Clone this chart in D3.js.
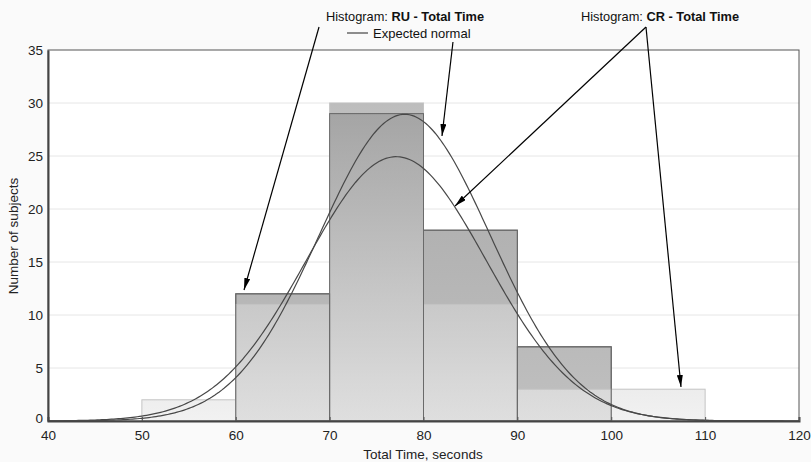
<!DOCTYPE html>
<html><head><meta charset="utf-8">
<script src="https://cdn.jsdelivr.net/npm/d3@7"></script>
<style>html,body{margin:0;padding:0;background:#fafafa;}svg{display:block;font-family:"Liberation Sans",Arial,sans-serif;}</style>
</head><body>
<svg id="c" width="811" height="462"></svg>
<script>
// ---- data ----
const binStarts = [50, 60, 70, 80, 90, 100];
const binWidth = 10;
const ruCounts = [0, 12, 29, 18, 7, 0];
const crCounts = [2, 11, 30, 11, 3, 3];
const ruNormal = [78.0, 9.1, 66];   // mean, sd, n
const crNormal = [77.1, 9.6, 60];
const xTicks = [40, 50, 60, 70, 80, 90, 100, 110, 120];
const yTicks = [0, 5, 10, 15, 20, 25, 30, 35];
const gridValues = [5, 10, 15, 20, 25, 30];
// annotation arrows: [fromX, fromY, toX, toY] in data units
const arrowsData = [
  [68.87, 37.17, 60.88, 12.36],
  [83.14, 35.75, 81.97, 26.89],
  [103.70, 37.17, 83.36, 20.28],
  [103.70, 37.17, 107.43, 3.21]
];

const svg = d3.select("#c");
const x = d3.scaleLinear().domain([40, 120]).range([48, 799]);
const y = d3.scaleLinear().domain([0, 35]).range([421, 50]);

const defs = svg.append("defs");
function grad(id, c1, c2) {
  const g = defs.append("linearGradient").attr("id", id)
    .attr("gradientUnits", "userSpaceOnUse")
    .attr("x1", 0).attr("x2", 0).attr("y1", y(35)).attr("y2", y(0));
  g.append("stop").attr("offset", 0).attr("stop-color", c1);
  g.append("stop").attr("offset", 1).attr("stop-color", c2);
}
grad("gRU", "#a4a4a4", "#c0c0c0");
grad("gCR", "#949494", "#ececec");
defs.append("marker").attr("id", "ah").attr("viewBox", "0 0 12 6")
  .attr("refX", 12).attr("refY", 3).attr("markerWidth", 12).attr("markerHeight", 6)
  .attr("markerUnits", "userSpaceOnUse").attr("orient", "auto")
  .append("path").attr("d", "M0,0 L12,3 L0,6 Z").attr("fill", "#000");

// plot background
svg.append("rect").attr("x", x(40)).attr("y", y(35)).attr("width", x(120) - x(40)).attr("height", y(0) - y(35)).attr("fill", "#fff");

// grid
svg.append("g").selectAll("line").data(gridValues).join("line")
  .attr("x1", x(40)).attr("x2", x(120)).attr("y1", d => y(d)).attr("y2", d => y(d))
  .attr("stroke", "#e6e6e6").attr("stroke-width", 1);

const ru = binStarts.map((b, i) => ({ b, v: ruCounts[i] })).filter(d => d.v > 0);
const cr = binStarts.map((b, i) => ({ b, v: crCounts[i] })).filter(d => d.v > 0);

// RU fills
svg.append("g").selectAll("rect").data(ru).join("rect")
  .attr("x", d => x(d.b)).attr("width", d => x(d.b + binWidth) - x(d.b))
  .attr("y", d => y(d.v)).attr("height", d => y(0) - y(d.v))
  .attr("fill", "url(#gRU)").attr("stroke", "#5c5c5c").attr("stroke-width", 1);
// CR fills (semi transparent on top)
svg.append("g").selectAll("rect").data(cr).join("rect")
  .attr("x", d => x(d.b)).attr("width", d => x(d.b + binWidth) - x(d.b))
  .attr("y", d => y(d.v)).attr("height", d => y(0) - y(d.v))
  .attr("fill", "url(#gCR)").attr("fill-opacity", 0.7)
  .attr("stroke", "#c4c4c4").attr("stroke-width", 1);
// RU outlines on top
svg.append("g").selectAll("rect").data(ru).join("rect")
  .attr("x", d => x(d.b)).attr("width", d => x(d.b + binWidth) - x(d.b))
  .attr("y", d => y(d.v)).attr("height", d => y(0) - y(d.v))
  .attr("fill", "none").attr("stroke", "#6a6a6a").attr("stroke-width", 1);

// normal curves
function normalPts(p) {
  const [m, s, n] = p;
  return d3.range(40, 120.01, 0.25).map(t => [t, n * binWidth / (s * Math.sqrt(2 * Math.PI)) * Math.exp(-0.5 * ((t - m) / s) ** 2)]);
}
const line = d3.line().x(d => x(d[0])).y(d => y(d[1])).curve(d3.curveLinear);
[ruNormal, crNormal].forEach(p => {
  svg.append("path").attr("d", line(normalPts(p))).attr("fill", "none")
    .attr("stroke", "#484848").attr("stroke-width", 1.2);
});

// frame & axes
svg.append("rect").attr("x", x(40)).attr("y", y(35)).attr("width", x(120) - x(40)).attr("height", y(0) - y(35))
  .attr("fill", "none").attr("stroke", "#555").attr("stroke-width", 1);
const xAxis = d3.axisBottom(x).tickValues(xTicks).tickSize(-4).tickPadding(9).tickFormat(d3.format("d"));
const gx = svg.append("g").attr("transform", `translate(0,${y(0)})`).call(xAxis);
gx.select(".domain").attr("stroke", "#444").attr("stroke-width", 2);
gx.selectAll(".tick line").attr("stroke", "#555");
gx.selectAll("text").attr("font-size", 13.5).attr("fill", "#222").attr("font-family", "Liberation Sans, Arial, sans-serif");
const yAxis = d3.axisLeft(y).tickValues(yTicks).tickSize(0).tickPadding(5).tickFormat(d3.format("d"));
const gy = svg.append("g").attr("transform", `translate(${x(40)},0)`).call(yAxis);
gy.select(".domain").attr("stroke", "#444").attr("stroke-width", 2);
gy.selectAll("text").attr("font-size", 13.5).attr("fill", "#222").attr("font-family", "Liberation Sans, Arial, sans-serif");
gy.selectAll(".tick").filter(d => d === 0).select("text").attr("dy", "0.1em");

// axis titles
svg.append("text").attr("x", 423).attr("y", 459).attr("text-anchor", "middle")
  .attr("font-size", 13.5).attr("fill", "#222").text("Total Time, seconds");
svg.append("text").attr("transform", "translate(18,236) rotate(-90)").attr("text-anchor", "middle")
  .attr("font-size", 13.5).attr("fill", "#222").text("Number of subjects");

// arrows
svg.append("g").selectAll("line").data(arrowsData).join("line")
  .attr("x1", d => x(d[0])).attr("y1", d => y(d[1])).attr("x2", d => x(d[2])).attr("y2", d => y(d[3]))
  .attr("stroke", "#000").attr("stroke-width", 1.2).attr("marker-end", "url(#ah)");

// labels
function label(xp, yp, bold) {
  const t = svg.append("text").attr("x", xp).attr("y", yp).attr("font-size", 12.8).attr("fill", "#111");
  t.append("tspan").text("Histogram: ");
  t.append("tspan").attr("font-weight", "bold").text(bold);
}
label(326, 21, "RU - Total Time");
label(581, 21, "CR - Total Time");
svg.append("line").attr("x1", 347).attr("x2", 368).attr("y1", 33).attr("y2", 33).attr("stroke", "#444").attr("stroke-width", 1.2);
svg.append("text").attr("x", 373).attr("y", 38).attr("font-size", 13).attr("fill", "#111").text("Expected normal");
</script>
</body></html>
